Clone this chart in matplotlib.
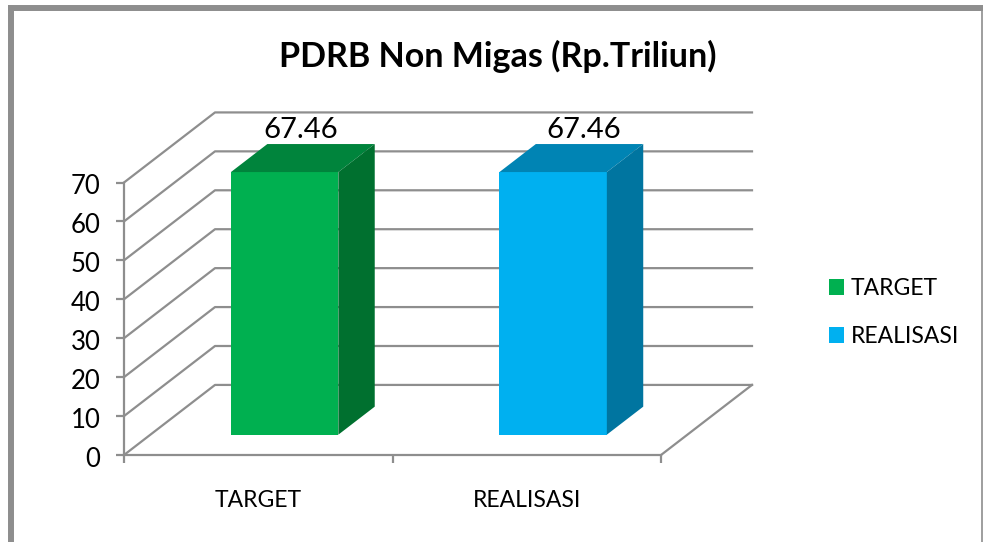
import matplotlib
matplotlib.use('Agg')
import matplotlib.pyplot as plt
from matplotlib.lines import Line2D
from matplotlib.patches import Patch, Polygon
from matplotlib.transforms import ScaledTranslation

categories = ['TARGET', 'REALISASI']
values = [67.46, 67.46]
front_colors = ['#00B050', '#00B0F0']
top_colors = ['#00843C', '#0084B4']
side_colors = ['#00702F', '#0075A0']
y_ticks = [0, 10, 20, 30, 40, 50, 60, 70]

W, H = 983, 542
GREY = '#8E8E8E'

plt.rcParams['font.family'] = ['Lato', 'DejaVu Sans']

fig = plt.figure(figsize=(W / 100, H / 100), dpi=100)
ax = fig.add_axes([124 / W, (H - 455) / H, (661 - 124) / W, 272.5 / H])
ax.set_xlim(0, len(categories))
ax.set_ylim(0, 70)
ax.patch.set_visible(False)

# 3D look: how far the back wall sits from the front plane, in data units
DX = 91 / 268.5
DY = 18.0
bar_width = 0.4
depth_front = 0.29
depth_back = 0.69


def shift(x, v, d):
    return x + d * DX, v + d * DY


# walls and floor
for t in y_ticks:
    x0, y0 = shift(0, t, 0)
    x1, y1 = shift(0, t, 1)
    x2, y2 = shift(len(categories), t, 1)
    ax.plot([x0, x1, x2], [y0, y1, y2], color=GREY, lw=1.6, clip_on=False, zorder=1)
x0, y0 = shift(len(categories), 0, 0)
x1, y1 = shift(len(categories), 0, 1)
ax.plot([x0, x1], [y0, y1], color=GREY, lw=1.6, clip_on=False, zorder=1)

# bars
label_offset = [0, 10.5]
for i, v in enumerate(values):
    left = i + 0.5 - bar_width / 2
    right = left + bar_width
    fx, fy = shift(left, 0, depth_front)
    ax.bar(fx, v, bar_width, bottom=fy, align='edge', color=front_colors[i],
           clip_on=False, zorder=3)
    top = [shift(left, v, depth_front), shift(right, v, depth_front),
           shift(right, v, depth_back), shift(left, v, depth_back)]
    side = [shift(right, 0, depth_front), shift(right, 0, depth_back),
            shift(right, v, depth_back), shift(right, v, depth_front)]
    ax.add_patch(Polygon(top, closed=True, color=top_colors[i], lw=0, clip_on=False, zorder=3))
    ax.add_patch(Polygon(side, closed=True, color=side_colors[i], lw=0, clip_on=False, zorder=3))
    lx, ly = shift(i + 0.5, v, depth_back)
    ax.annotate(f'{v:.2f}', (lx, ly), xytext=(label_offset[i] - 15, 1), textcoords='offset points',
                ha='center', va='bottom', fontsize=21, color='black', zorder=4,
                annotation_clip=False)

# axes
for s in ['top', 'right']:
    ax.spines[s].set_visible(False)
for s in ['left', 'bottom']:
    ax.spines[s].set_color(GREY)
    ax.spines[s].set_linewidth(1.6)
ax.set_yticks(y_ticks)
ax.set_xticks(range(len(categories) + 1))
ax.set_xticklabels([])
ax.set_xticks([i + 0.5 for i in range(len(categories))], minor=True)
ax.set_xticklabels(categories, minor=True)
ax.tick_params(axis='y', length=6, width=1.6, color=GREY, labelsize=18.5, pad=11)
ax.tick_params(axis='x', which='major', length=6, width=1.6, color=GREY)
ax.tick_params(axis='x', which='minor', length=0, labelsize=16.5, pad=25)
for lab in ax.get_yticklabels():
    lab.set_transform(lab.get_transform() + ScaledTranslation(0, -2 / 100, fig.dpi_scale_trans))

fig.text(498 / W, 1 - 56 / H, 'PDRB Non Migas (Rp.Triliun)', ha='center', va='center',
         fontsize=24.5, fontweight='bold', color='black')

handles = [Patch(color=c, lw=0) for c in front_colors]
leg = fig.legend(handles, categories, loc='upper left', bbox_to_anchor=(829 / W, 1 - 278 / H),
                 frameon=False, fontsize=16.5, borderpad=0, borderaxespad=0, handlelength=0.66,
                 handleheight=0.66, handletextpad=0.3, labelspacing=1.18)

# frame of the pasted picture
fig.add_artist(Line2D([11 / W, 11 / W], [0, 1 - 5 / H], color=GREY, lw=4.3, solid_capstyle='butt'))
fig.add_artist(Line2D([8 / W, 1], [1 - 8 / H, 1 - 8 / H], color=GREY, lw=4.3, solid_capstyle='butt'))
fig.add_artist(Line2D([982 / W, 982 / W], [0, 1 - 8 / H], color=GREY, lw=1.2))

fig.savefig('out.png', dpi=100, facecolor='white')
